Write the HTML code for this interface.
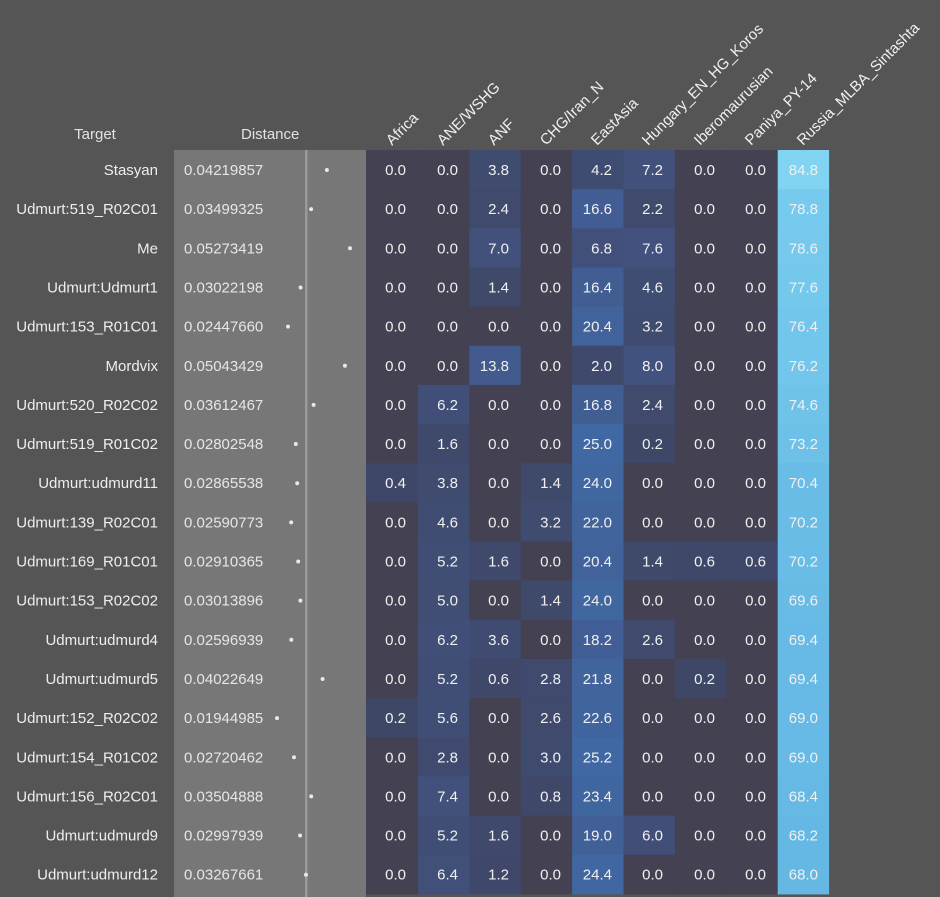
<!DOCTYPE html>
<html><head><meta charset="utf-8"><style>
html,body{margin:0;padding:0;background:#555555;}
svg{display:block;font-family:"Liberation Sans",sans-serif;font-size:15px;}
text{fill:#f0f0f0;}
.t{text-anchor:end;fill:#eeeeee;}
.d{fill:#e6e6e6;}
.v{text-anchor:end;}
.h{fill:#e2e2e2;}
</style></head><body>
<svg id="s" width="940" height="897" viewBox="0 0 940 897">
<rect x="0" y="0" width="940" height="897" fill="#555555"/>
<rect x="174" y="150" width="192" height="747" fill="#777777"/>
<rect x="305" y="150" width="2.5" height="747" fill="#9a9a9a"/>
<text x="95" y="139" class="h" text-anchor="middle">Target</text>
<text x="241" y="139" class="h">Distance</text>
<g class="h">
<text transform="translate(392,146) rotate(-45)">Africa</text>
<text transform="translate(443,146) rotate(-45)">ANE/WSHG</text>
<text transform="translate(494,146) rotate(-45)">ANF</text>
<text transform="translate(546,146) rotate(-45)">CHG/Iran_N</text>
<text transform="translate(597,146) rotate(-45)">EastAsia</text>
<text transform="translate(648,146) rotate(-45)">Hungary_EN_HG_Koros</text>
<text transform="translate(700,146) rotate(-45)">Iberomaurusian</text>
<text transform="translate(751,146) rotate(-45)">Paniya_PY-14</text>
<text transform="translate(803,146) rotate(-45)">Russia_MLBA_Sintashta</text>
</g>
<g id="rows">
<g class="r"><text x="158" y="25" class="t">Stasyan</text><text x="184" y="25" class="d">0.04219857</text><text x="406" y="25" class="v">0.0</text><text x="458" y="25" class="v">0.0</text><text x="509" y="25" class="v">3.8</text><text x="561" y="25" class="v">0.0</text><text x="612" y="25" class="v">4.2</text><text x="663" y="25" class="v">7.2</text><text x="715" y="25" class="v">0.0</text><text x="766" y="25" class="v">0.0</text><text x="818" y="25" class="v">84.8</text></g>
<g class="r"><text x="158" y="25" class="t">Udmurt:519_R02C01</text><text x="184" y="25" class="d">0.03499325</text><text x="406" y="25" class="v">0.0</text><text x="458" y="25" class="v">0.0</text><text x="509" y="25" class="v">2.4</text><text x="561" y="25" class="v">0.0</text><text x="612" y="25" class="v">16.6</text><text x="663" y="25" class="v">2.2</text><text x="715" y="25" class="v">0.0</text><text x="766" y="25" class="v">0.0</text><text x="818" y="25" class="v">78.8</text></g>
<g class="r"><text x="158" y="25" class="t">Me</text><text x="184" y="25" class="d">0.05273419</text><text x="406" y="25" class="v">0.0</text><text x="458" y="25" class="v">0.0</text><text x="509" y="25" class="v">7.0</text><text x="561" y="25" class="v">0.0</text><text x="612" y="25" class="v">6.8</text><text x="663" y="25" class="v">7.6</text><text x="715" y="25" class="v">0.0</text><text x="766" y="25" class="v">0.0</text><text x="818" y="25" class="v">78.6</text></g>
<g class="r"><text x="158" y="25" class="t">Udmurt:Udmurt1</text><text x="184" y="25" class="d">0.03022198</text><text x="406" y="25" class="v">0.0</text><text x="458" y="25" class="v">0.0</text><text x="509" y="25" class="v">1.4</text><text x="561" y="25" class="v">0.0</text><text x="612" y="25" class="v">16.4</text><text x="663" y="25" class="v">4.6</text><text x="715" y="25" class="v">0.0</text><text x="766" y="25" class="v">0.0</text><text x="818" y="25" class="v">77.6</text></g>
<g class="r"><text x="158" y="25" class="t">Udmurt:153_R01C01</text><text x="184" y="25" class="d">0.02447660</text><text x="406" y="25" class="v">0.0</text><text x="458" y="25" class="v">0.0</text><text x="509" y="25" class="v">0.0</text><text x="561" y="25" class="v">0.0</text><text x="612" y="25" class="v">20.4</text><text x="663" y="25" class="v">3.2</text><text x="715" y="25" class="v">0.0</text><text x="766" y="25" class="v">0.0</text><text x="818" y="25" class="v">76.4</text></g>
<g class="r"><text x="158" y="25" class="t">Mordvix</text><text x="184" y="25" class="d">0.05043429</text><text x="406" y="25" class="v">0.0</text><text x="458" y="25" class="v">0.0</text><text x="509" y="25" class="v">13.8</text><text x="561" y="25" class="v">0.0</text><text x="612" y="25" class="v">2.0</text><text x="663" y="25" class="v">8.0</text><text x="715" y="25" class="v">0.0</text><text x="766" y="25" class="v">0.0</text><text x="818" y="25" class="v">76.2</text></g>
<g class="r"><text x="158" y="25" class="t">Udmurt:520_R02C02</text><text x="184" y="25" class="d">0.03612467</text><text x="406" y="25" class="v">0.0</text><text x="458" y="25" class="v">6.2</text><text x="509" y="25" class="v">0.0</text><text x="561" y="25" class="v">0.0</text><text x="612" y="25" class="v">16.8</text><text x="663" y="25" class="v">2.4</text><text x="715" y="25" class="v">0.0</text><text x="766" y="25" class="v">0.0</text><text x="818" y="25" class="v">74.6</text></g>
<g class="r"><text x="158" y="25" class="t">Udmurt:519_R01C02</text><text x="184" y="25" class="d">0.02802548</text><text x="406" y="25" class="v">0.0</text><text x="458" y="25" class="v">1.6</text><text x="509" y="25" class="v">0.0</text><text x="561" y="25" class="v">0.0</text><text x="612" y="25" class="v">25.0</text><text x="663" y="25" class="v">0.2</text><text x="715" y="25" class="v">0.0</text><text x="766" y="25" class="v">0.0</text><text x="818" y="25" class="v">73.2</text></g>
<g class="r"><text x="158" y="25" class="t">Udmurt:udmurd11</text><text x="184" y="25" class="d">0.02865538</text><text x="406" y="25" class="v">0.4</text><text x="458" y="25" class="v">3.8</text><text x="509" y="25" class="v">0.0</text><text x="561" y="25" class="v">1.4</text><text x="612" y="25" class="v">24.0</text><text x="663" y="25" class="v">0.0</text><text x="715" y="25" class="v">0.0</text><text x="766" y="25" class="v">0.0</text><text x="818" y="25" class="v">70.4</text></g>
<g class="r"><text x="158" y="25" class="t">Udmurt:139_R02C01</text><text x="184" y="25" class="d">0.02590773</text><text x="406" y="25" class="v">0.0</text><text x="458" y="25" class="v">4.6</text><text x="509" y="25" class="v">0.0</text><text x="561" y="25" class="v">3.2</text><text x="612" y="25" class="v">22.0</text><text x="663" y="25" class="v">0.0</text><text x="715" y="25" class="v">0.0</text><text x="766" y="25" class="v">0.0</text><text x="818" y="25" class="v">70.2</text></g>
<g class="r"><text x="158" y="25" class="t">Udmurt:169_R01C01</text><text x="184" y="25" class="d">0.02910365</text><text x="406" y="25" class="v">0.0</text><text x="458" y="25" class="v">5.2</text><text x="509" y="25" class="v">1.6</text><text x="561" y="25" class="v">0.0</text><text x="612" y="25" class="v">20.4</text><text x="663" y="25" class="v">1.4</text><text x="715" y="25" class="v">0.6</text><text x="766" y="25" class="v">0.6</text><text x="818" y="25" class="v">70.2</text></g>
<g class="r"><text x="158" y="25" class="t">Udmurt:153_R02C02</text><text x="184" y="25" class="d">0.03013896</text><text x="406" y="25" class="v">0.0</text><text x="458" y="25" class="v">5.0</text><text x="509" y="25" class="v">0.0</text><text x="561" y="25" class="v">1.4</text><text x="612" y="25" class="v">24.0</text><text x="663" y="25" class="v">0.0</text><text x="715" y="25" class="v">0.0</text><text x="766" y="25" class="v">0.0</text><text x="818" y="25" class="v">69.6</text></g>
<g class="r"><text x="158" y="25" class="t">Udmurt:udmurd4</text><text x="184" y="25" class="d">0.02596939</text><text x="406" y="25" class="v">0.0</text><text x="458" y="25" class="v">6.2</text><text x="509" y="25" class="v">3.6</text><text x="561" y="25" class="v">0.0</text><text x="612" y="25" class="v">18.2</text><text x="663" y="25" class="v">2.6</text><text x="715" y="25" class="v">0.0</text><text x="766" y="25" class="v">0.0</text><text x="818" y="25" class="v">69.4</text></g>
<g class="r"><text x="158" y="25" class="t">Udmurt:udmurd5</text><text x="184" y="25" class="d">0.04022649</text><text x="406" y="25" class="v">0.0</text><text x="458" y="25" class="v">5.2</text><text x="509" y="25" class="v">0.6</text><text x="561" y="25" class="v">2.8</text><text x="612" y="25" class="v">21.8</text><text x="663" y="25" class="v">0.0</text><text x="715" y="25" class="v">0.2</text><text x="766" y="25" class="v">0.0</text><text x="818" y="25" class="v">69.4</text></g>
<g class="r"><text x="158" y="25" class="t">Udmurt:152_R02C02</text><text x="184" y="25" class="d">0.01944985</text><text x="406" y="25" class="v">0.2</text><text x="458" y="25" class="v">5.6</text><text x="509" y="25" class="v">0.0</text><text x="561" y="25" class="v">2.6</text><text x="612" y="25" class="v">22.6</text><text x="663" y="25" class="v">0.0</text><text x="715" y="25" class="v">0.0</text><text x="766" y="25" class="v">0.0</text><text x="818" y="25" class="v">69.0</text></g>
<g class="r"><text x="158" y="25" class="t">Udmurt:154_R01C02</text><text x="184" y="25" class="d">0.02720462</text><text x="406" y="25" class="v">0.0</text><text x="458" y="25" class="v">2.8</text><text x="509" y="25" class="v">0.0</text><text x="561" y="25" class="v">3.0</text><text x="612" y="25" class="v">25.2</text><text x="663" y="25" class="v">0.0</text><text x="715" y="25" class="v">0.0</text><text x="766" y="25" class="v">0.0</text><text x="818" y="25" class="v">69.0</text></g>
<g class="r"><text x="158" y="25" class="t">Udmurt:156_R02C01</text><text x="184" y="25" class="d">0.03504888</text><text x="406" y="25" class="v">0.0</text><text x="458" y="25" class="v">7.4</text><text x="509" y="25" class="v">0.0</text><text x="561" y="25" class="v">0.8</text><text x="612" y="25" class="v">23.4</text><text x="663" y="25" class="v">0.0</text><text x="715" y="25" class="v">0.0</text><text x="766" y="25" class="v">0.0</text><text x="818" y="25" class="v">68.4</text></g>
<g class="r"><text x="158" y="25" class="t">Udmurt:udmurd9</text><text x="184" y="25" class="d">0.02997939</text><text x="406" y="25" class="v">0.0</text><text x="458" y="25" class="v">5.2</text><text x="509" y="25" class="v">1.6</text><text x="561" y="25" class="v">0.0</text><text x="612" y="25" class="v">19.0</text><text x="663" y="25" class="v">6.0</text><text x="715" y="25" class="v">0.0</text><text x="766" y="25" class="v">0.0</text><text x="818" y="25" class="v">68.2</text></g>
<g class="r"><text x="158" y="25" class="t">Udmurt:udmurd12</text><text x="184" y="25" class="d">0.03267661</text><text x="406" y="25" class="v">0.0</text><text x="458" y="25" class="v">6.4</text><text x="509" y="25" class="v">1.2</text><text x="561" y="25" class="v">0.0</text><text x="612" y="25" class="v">24.4</text><text x="663" y="25" class="v">0.0</text><text x="715" y="25" class="v">0.0</text><text x="766" y="25" class="v">0.0</text><text x="818" y="25" class="v">68.0</text></g>
</g>
</svg>
<script>
(function(){
var NS="http://www.w3.org/2000/svg";
var stops=[[0.2,[63,71,103]],[4,[63,76,113]],[8,[66,82,126]],[14,[66,90,142]],[25,[64,104,162]],[68,[101,184,228]],[85,[128,212,242]]];
function col(v){
  if(v===0) return "rgb(67,65,82)";
  if(v<=stops[0][0]) return "rgb("+stops[0][1].join(",")+")";
  for(var i=1;i<stops.length;i++){
    if(v<=stops[i][0]){
      var a=stops[i-1],b=stops[i],t=(v-a[0])/(b[0]-a[0]);
      var c=a[1].map(function(x,k){return Math.round(x+(b[1][k]-x)*t);});
      return "rgb("+c.join(",")+")";
    }
  }
  return "rgb(128,212,242)";
}
var rows=document.querySelectorAll("#rows .r");
for(var r=0;r<rows.length;r++){
  var g=rows[r], y0=150+r*39.15;
  g.setAttribute("transform","translate(0,"+y0.toFixed(2)+")");
  var vs=g.querySelectorAll(".v");
  for(var j=0;j<vs.length;j++){
    var rc=document.createElementNS(NS,"rect");
    var x0=366+j*51.4;
    rc.setAttribute("x",x0.toFixed(2));rc.setAttribute("y","0");
    rc.setAttribute("width","51.9");rc.setAttribute("height","39.7");
    rc.setAttribute("fill",col(parseFloat(vs[j].textContent)));
    g.insertBefore(rc,g.firstChild);
  }
  var d=parseFloat(g.querySelector(".d").textContent);
  var c=document.createElementNS(NS,"circle");
  c.setAttribute("cx",(277+(d-0.01945)*2193).toFixed(1));
  c.setAttribute("cy","20");c.setAttribute("r","2");c.setAttribute("fill","#e8e8e8");
  g.appendChild(c);
}
})();
</script>
</body></html>
